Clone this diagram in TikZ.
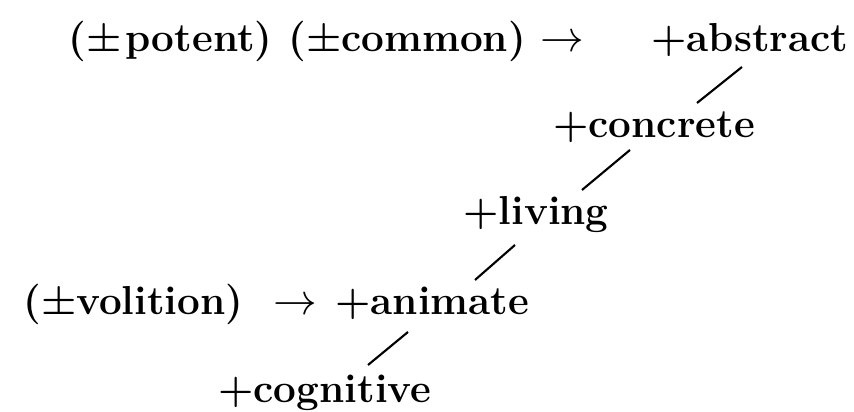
\documentclass[tikz,border=0pt]{standalone}
\usepackage{fontspec}
\usepackage{tikz}
\usetikzlibrary{positioning,calc}

\begin{document}
\begin{tikzpicture}[
  feat/.style={anchor=base west, inner sep=0pt, font=\fontsize{23}{28}\selectfont\bfseries},
  arr/.style={anchor=base west, inner sep=0pt, font=\fontsize{23}{28}\selectfont},
  link/.style={line width=1.2pt}]

  \useasboundingbox (0,0) rectangle (17.08,8.24);

  % Top row
  \node[feat] (potent) at (1.36,7.2) {(±\hspace{0.1em}potent)};
  \node[feat] (common) at (5.76,7.2) {(±common)};
  \node[arr] (arr1) at (10.8,7.2) {$\rightarrow$};
  \node[feat] (abstract) at (13.02,7.2) {+abstract};

  % Chain
  \node[feat] (concrete) at (11.06,5.48) {+concrete};
  \node[feat] (living) at (9.26,3.74) {+living};

  % Lower row
  \node[feat] (volition) at (0.46,1.94) {(±volition)};
  \node[arr] (arr2) at (5.46,1.94) {$\rightarrow$};
  \node[feat] (animate) at (6.7,1.94) {+animate};
  \node[feat] (cognitive) at (4.36,0.18) {+cognitive};

  % Links
  \draw[link] ([shift={(1.82,-0.3)}]abstract.base west) -- ([shift={(2.88,0.7)}]concrete.base west);
  \draw[link] ([shift={(1.54,-0.24)}]concrete.base west) -- ([shift={(2.38,0.7)}]living.base west);
  \draw[link] ([shift={(1.04,-0.4)}]living.base west) -- ([shift={(2.8,0.7)}]animate.base west);
  \draw[link] ([shift={(1.46,-0.34)}]animate.base west) -- ([shift={(3.0,0.76)}]cognitive.base west);

\end{tikzpicture}
\end{document}
